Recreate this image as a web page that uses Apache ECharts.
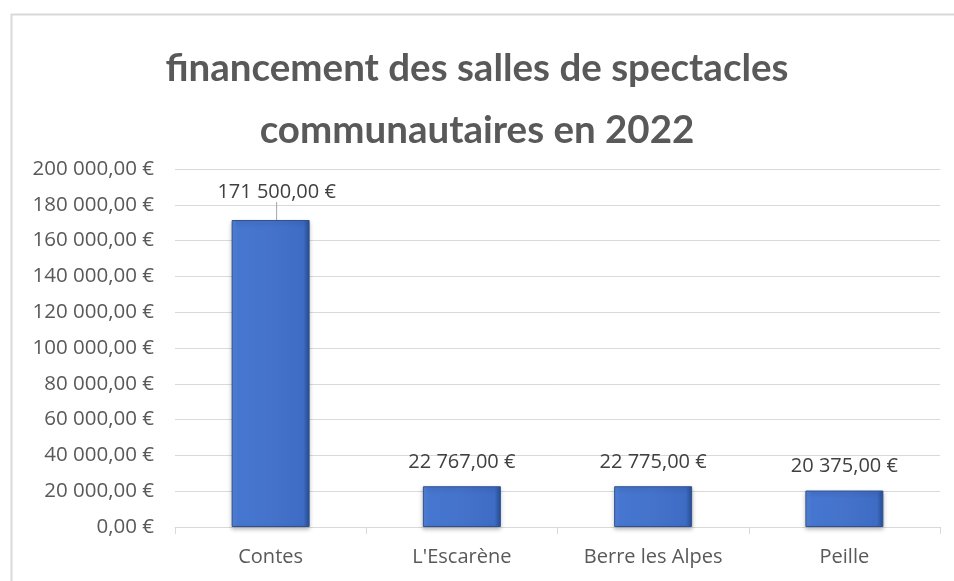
<!DOCTYPE html>
<html>
<head>
<meta charset="utf-8">
<script src="https://cdn.jsdelivr.net/npm/echarts@6/dist/echarts.min.js"></script>
<style>html,body{margin:0;padding:0;background:#fff;}#c{width:954px;height:581px;}</style>
</head>
<body>
<div id="c"></div>
<script>
var titleText = 'financement des salles de spectacles\ncommunautaires en 2022';
var categories = ['Contes', "L'Escarène", 'Berre les Alpes', 'Peille'];
var values = [171500, 22767, 22775, 20375];
var yMin = 0, yMax = 200000, yStep = 20000;

function euro(n) {
  var s = n.toFixed(2).split('.');
  var intPart = s[0].replace(/\B(?=(\d{3})+(?!\d))/g, ' ');
  return intPart + ',' + s[1] + ' €';
}

var FONT = 'Open Sans';
var seriesData = values.map(function (v, i) {
  return i === 0 ? {value: v, labelLine: {show: true}} : {value: v, labelLine: {show: false}};
});

var chart = echarts.init(document.getElementById('c'), null, {renderer: 'canvas'});
chart.setOption({
  backgroundColor: '#ffffff',
  animation: false,
  graphic: [{
    type: 'rect', left: 9, top: 12, z: -1, silent: true,
    shape: {width: 960, height: 600},
    style: {fill: 'none', stroke: '#d9d9d9', lineWidth: 2}
  }],
  title: {
    text: titleText,
    left: 'center',
    top: 33,
    textStyle: {fontFamily: 'Lato', fontSize: 38.5, fontWeight: 'bold', color: '#595959', lineHeight: 62}
  },
  grid: {left: 175, right: 14, top: 169, bottom: 54, containLabel: false},
  xAxis: {
    type: 'category',
    data: categories,
    axisLine: {lineStyle: {color: '#d9d9d9', width: 1}},
    axisTick: {show: true, length: 7, lineStyle: {color: '#d9d9d9'}},
    axisLabel: {fontFamily: FONT, fontSize: 20, color: '#595959', margin: 20}
  },
  yAxis: {
    type: 'value',
    min: yMin, max: yMax, interval: yStep,
    axisLine: {show: false},
    axisTick: {show: false},
    splitLine: {lineStyle: {color: '#d9d9d9', width: 1}},
    axisLabel: {fontFamily: FONT, fontSize: 20.5, color: '#595959', margin: 21, formatter: euro}
  },
  series: [{
    type: 'bar',
    data: seriesData,
    barWidth: 78,
    itemStyle: {
      color: new echarts.graphic.LinearGradient(0, 0, 1, 0, [
        {offset: 0, color: '#5585da'},
        {offset: 0.08, color: '#4676cf'},
        {offset: 0.5, color: '#4573cc'},
        {offset: 0.92, color: '#3e6bc4'},
        {offset: 1, color: '#284f96'}
      ]),
      borderColor: '#2f528f',
      borderWidth: 1,
      shadowColor: 'rgba(0,0,0,0.25)',
      shadowBlur: 4,
      shadowOffsetY: 2
    },
    label: {
      show: true,
      position: 'top',
      distance: 14,
      fontFamily: FONT, fontSize: 20, color: '#404040',
      formatter: function (p) { return euro(p.value); }
    },
    labelLine: {lineStyle: {color: '#a6a6a6', width: 1}},
    labelLayout: function (p) {
      if (p.dataIndex === 0) return {dx: 6, dy: -4};
      return {};
    }
  }]
});
</script>
</body>
</html>
